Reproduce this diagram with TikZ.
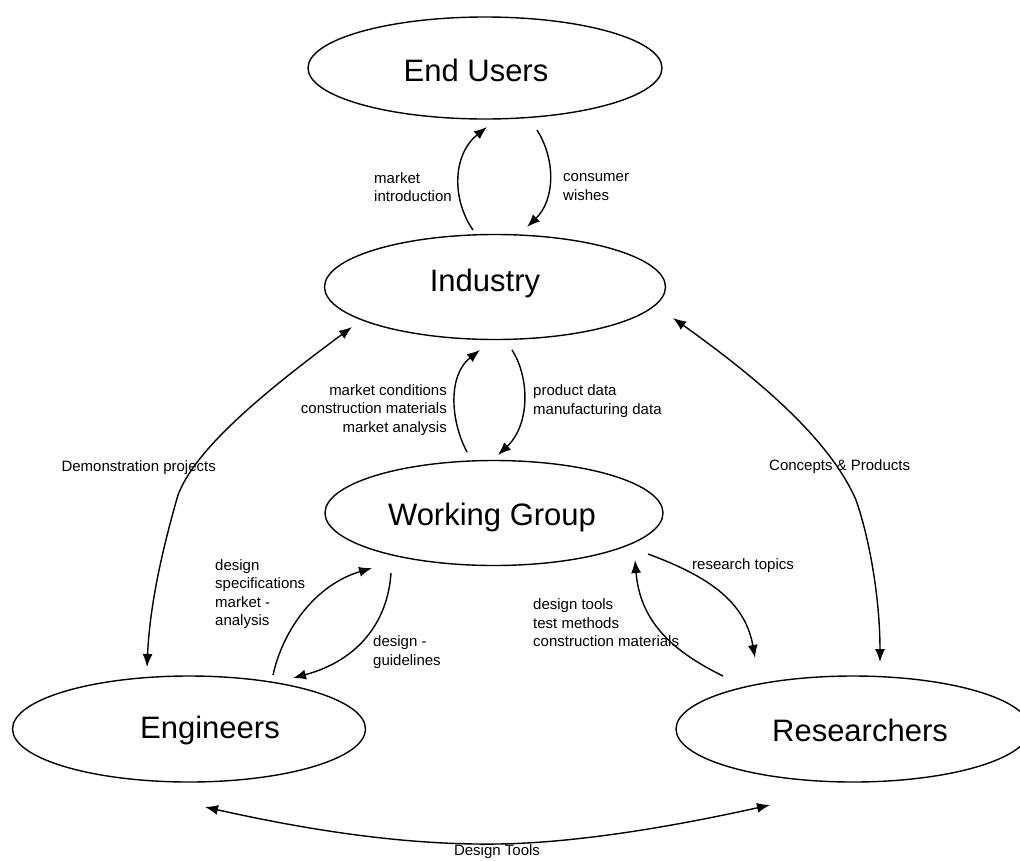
\documentclass[tikz,border=0pt]{standalone}
\usepackage{fontspec}
\setmainfont{Liberation Sans}
\usetikzlibrary{arrows.meta,shapes.geometric}
\begin{document}
\begin{tikzpicture}[x=1pt,y=-1pt,
  oval/.style={ellipse,draw,line width=1.4pt,inner sep=0pt,outer sep=0pt},
  title/.style={font=\fontsize{31}{37}\selectfont,inner sep=0pt},
  note/.style={font=\fontsize{15}{18.5}\selectfont,inner sep=0pt},
  tipstyle/.style={line width=1.4pt},
  flow/.style={tipstyle,-{Latex[length=13pt,width=10pt]}},
  twoway/.style={tipstyle,{Latex[length=13pt,width=10pt]}-{Latex[length=13pt,width=10pt]}}]
\useasboundingbox (0,0) rectangle (1020,860);
\clip (0,0) rectangle (1020,860);

% the five parties
\node[oval,minimum width=354pt,minimum height=102pt] (eu)  at (485,68)  {};
\node[oval,minimum width=341pt,minimum height=105pt] (ind) at (495,287) {};
\node[oval,minimum width=338pt,minimum height=105pt] (wg)  at (494,513) {};
\node[oval,minimum width=353pt,minimum height=106pt] (eng) at (189,729) {};
\node[oval,minimum width=354pt,minimum height=106pt] (res) at (853,729) {};

\node[title] (euT)  at (476,70)  {End Users};
\node[title] (indT) at (485,283) {Industry};
\node[title] (wgT)  at (492,517) {Working Group};
\node[title] (engT) at (210,730) {Engineers};
\node[title] (resT) at (860,730) {Researchers};

% connector end points
\coordinate (mi-a) at (473,230); \coordinate (mi-b) at (487,127);
\coordinate (cw-a) at (537,130); \coordinate (cw-b) at (527,227);
\coordinate (mc-a) at (467,452); \coordinate (mc-b) at (480,350);
\coordinate (pd-a) at (512,350); \coordinate (pd-b) at (498,455);
\coordinate (dp-a) at (352,327); \coordinate (dp-m) at (178,495); \coordinate (dp-b) at (147,667);
\coordinate (cp-a) at (673,318); \coordinate (cp-m) at (856,500); \coordinate (cp-b) at (880,662);
\coordinate (ds-a) at (273,675); \coordinate (ds-b) at (372,568);
\coordinate (dg-a) at (391,573); \coordinate (dg-b) at (293,678);
\coordinate (rt-a) at (648,554); \coordinate (rt-b) at (755,658);
\coordinate (dt-a) at (723,676); \coordinate (dt-b) at (635,560);
\coordinate (bt-a) at (205,807); \coordinate (bt-m) at (497,844); \coordinate (bt-b) at (770,805);

% Industry <-> End Users
\draw[flow] (mi-a) .. controls (452,200) and (452,155) .. (mi-b);
\draw[flow] (cw-a) .. controls (556,160) and (555,200) .. (cw-b);
% Working Group <-> Industry
\draw[flow] (mc-a) .. controls (450,420) and (448,375) .. (mc-b);
\draw[flow] (pd-a) .. controls (530,378) and (530,425) .. (pd-b);
% long links to Industry
\draw[twoway] (dp-a) .. controls (260,395) and (195,450) .. (dp-m)
              .. controls (165,540) and (150,600) .. (dp-b);
\draw[twoway] (cp-a) .. controls (760,380) and (830,440) .. (cp-m)
              .. controls (870,540) and (880,600) .. (cp-b);
% Engineers <-> Working Group
\draw[flow] (ds-a) .. controls (283,630) and (315,585) .. (ds-b);
\draw[flow] (dg-a) .. controls (388,620) and (360,660) .. (dg-b);
% Working Group <-> Researchers
\draw[flow] (rt-a) .. controls (705,575) and (745,600) .. (rt-b);
\draw[flow] (dt-a) .. controls (670,650) and (640,620) .. (dt-b);
% Engineers <-> Researchers
\draw[twoway] (bt-a) .. controls (330,835) and (420,845) .. (bt-m)
              .. controls (580,843) and (680,825) .. (bt-b);

% labels
\node[note,anchor=west,align=left] (lmi) at (374,187) {market\\introduction};
\node[note,anchor=west,align=left] (lcw) at (563,187) {consumer\\wishes};
\node[note,anchor=east,align=right] (lmc) at (447,410) {market conditions\\construction materials\\market analysis};
\node[note,anchor=west,align=left] (lpd) at (533,401) {product data\\manufacturing data};
\node[note,anchor=east] (ldp) at (216,468) {Demonstration projects};
\node[note,anchor=west] (lcp) at (769,467) {Concepts \& Products};
\node[note,anchor=west,align=left] (lds) at (215,594) {design\\specifications\\market -\\analysis};
\node[note,anchor=west,align=left] (ldg) at (373,652) {design -\\guidelines};
\node[note,anchor=west] (lrt) at (692,566) {research topics};
\node[note,anchor=west,align=left] (ldt) at (533,623) {design tools\\test methods\\construction materials};
\node[note,anchor=base] (lbt) at (497,855.5) {Design Tools};
\end{tikzpicture}
\end{document}
